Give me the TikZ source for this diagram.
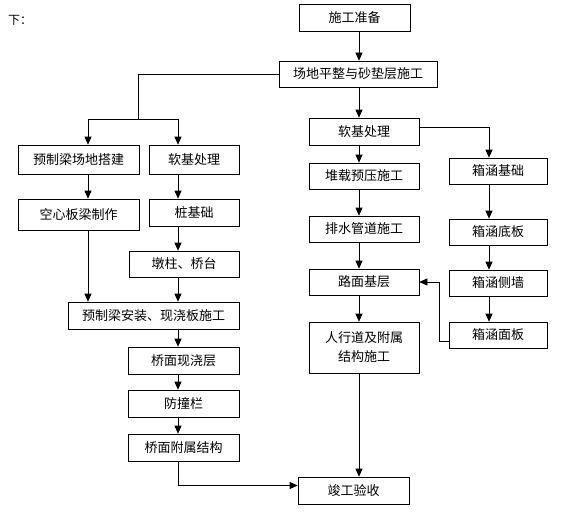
\documentclass[tikz,border=0pt]{standalone}
\usepackage{fontspec}
\setmainfont{Noto Sans CJK SC}
\usetikzlibrary{arrows.meta}
\begin{document}
\begin{tikzpicture}[x=1pt,y=-1pt,
  bx/.style={draw=black, line width=0.7pt, inner sep=0pt, font=\fontsize{13}{19}\selectfont, align=center},
  arr/.style={-{Triangle[length=8pt,width=7pt]}, line width=0.7pt},
  ln/.style={line width=0.7pt}]
\useasboundingbox (0,0) rectangle (577,516);
\node[anchor=west, font=\fontsize{12}{14}\selectfont, inner sep=0pt] (lead) at (8,20) {下：};
% top
\node[bx, minimum width=111pt, minimum height=27pt] (prep) at (354.5,17.5) {施工准备};
\node[bx, minimum width=158pt, minimum height=26pt] (site) at (358,74) {场地平整与砂垫层施工};
% left branch
\node[bx, minimum width=121pt, minimum height=29pt] (pre1) at (78.5,159.5) {预制梁场地搭建};
\node[bx, minimum width=90pt, minimum height=29pt] (softL) at (194,159.5) {软基处理};
\node[bx, minimum width=121pt, minimum height=31pt] (hollow) at (78.5,214.5) {空心板梁制作};
\node[bx, minimum width=90pt, minimum height=27pt] (pile) at (194,212.5) {桩基础};
\node[bx, minimum width=110pt, minimum height=26pt] (pier) at (184,264) {墩柱、桥台};
\node[bx, minimum width=171pt, minimum height=27pt] (install) at (153.5,315.5) {预制梁安装、现浇板施工};
\node[bx, minimum width=111pt, minimum height=27pt] (deck) at (183.5,360.5) {桥面现浇层};
\node[bx, minimum width=111pt, minimum height=27pt] (rail) at (183.5,403.5) {防撞栏};
\node[bx, minimum width=111pt, minimum height=27pt] (attach) at (183.5,447.5) {桥面附属结构};
\node[bx, minimum width=111pt, minimum height=27pt] (accept) at (353.5,490.5) {竣工验收};
% right branch
\node[bx, minimum width=110pt, minimum height=27pt] (softR) at (364,131.5) {软基处理};
\node[bx, minimum width=110pt, minimum height=26pt] (surch) at (364,176) {堆载预压施工};
\node[bx, minimum width=110pt, minimum height=26pt] (drain) at (364,229) {排水管道施工};
\node[bx, minimum width=110pt, minimum height=26pt] (base) at (364,282) {路面基层};
\node[bx, minimum width=110pt, minimum height=51pt] (walk) at (364,347.5) {人行道及附属\\结构施工};
\node[bx, minimum width=98pt, minimum height=26pt] (boxa) at (498,171) {箱涵基础};
\node[bx, minimum width=98pt, minimum height=26pt] (boxb) at (498,232) {箱涵底板};
\node[bx, minimum width=98pt, minimum height=26pt] (boxc) at (498,283) {箱涵侧墙};
\node[bx, minimum width=98pt, minimum height=26pt] (boxd) at (498,335) {箱涵面板};
% column coordinates
\coordinate (cA) at (88,0);
\coordinate (cB) at (178,0);
\coordinate (cR) at (359,0);
\coordinate (cX) at (489,0);
\coordinate (cY) at (439,0);
\coordinate (lsplit) at (138,119);
\coordinate (lL) at (88,119);
\coordinate (lR) at (178,119);
% connectors
\draw[arr] (prep.south -| cR) -- (site.north -| cR);
\draw[ln] (site.west) -| (lsplit);
\draw[ln] (lL) -- (lR);
\draw[arr] (lL) -- (lL |- pre1.north);
\draw[arr] (lR) -- (lR |- softL.north);
\draw[arr] (pre1.south -| cA) -- (hollow.north -| cA);
\draw[arr] (hollow.south -| cA) -- (install.north -| cA);
\draw[arr] (softL.south -| cB) -- (pile.north -| cB);
\draw[arr] (pile.south -| cB) -- (pier.north -| cB);
\draw[arr] (pier.south -| cB) -- (install.north -| cB);
\draw[arr] (install.south -| cB) -- (deck.north -| cB);
\draw[arr] (deck.south -| cB) -- (rail.north -| cB);
\draw[arr] (rail.south -| cB) -- (attach.north -| cB);
\draw[arr] (attach.south -| cB) |- ([yshift=5pt]accept.west);
\draw[arr] (site.south -| cR) -- (softR.north -| cR);
\draw[arr] (softR.south -| cR) -- (surch.north -| cR);
\draw[arr] (surch.south -| cR) -- (drain.north -| cR);
\draw[arr] (drain.south -| cR) -- (base.north -| cR);
\draw[arr] (base.south -| cR) -- (walk.north -| cR);
\draw[arr] (walk.south -| cR) -- (accept.north -| cR);
\draw[arr] ([yshift=4pt]softR.east) -| (boxa.north -| cX);
\draw[arr] (boxa.south -| cX) -- (boxb.north -| cX);
\draw[arr] (boxb.south -| cX) -- (boxc.north -| cX);
\draw[arr] (boxc.south -| cX) -- (boxd.north -| cX);
\draw[arr] ([yshift=-6pt]boxd.west) -| (cY |- base.east) -- (base.east);
\end{tikzpicture}
\end{document}
